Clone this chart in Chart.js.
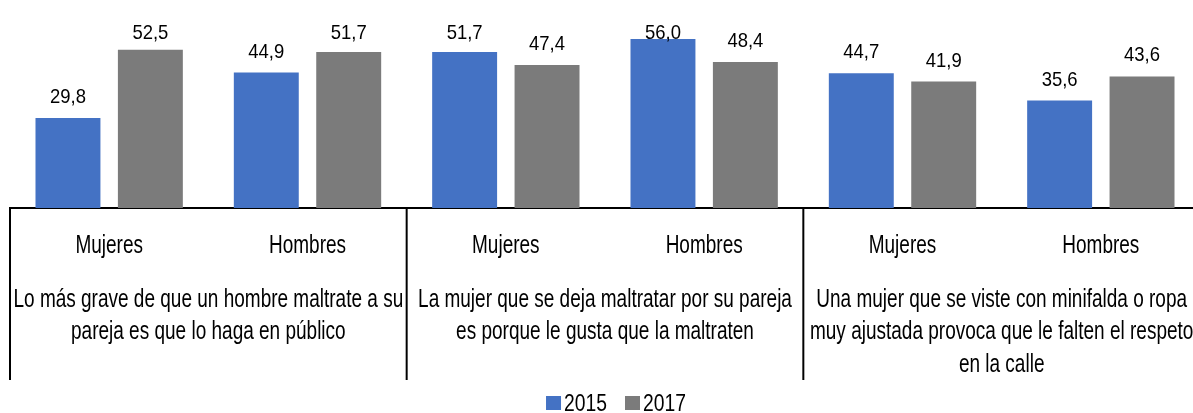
<!DOCTYPE html>
<html>
<head>
<meta charset="utf-8">
<script src="https://cdn.jsdelivr.net/npm/chart.js@4"></script>
<style>
  html, body { margin:0; padding:0; background:#fff; overflow:hidden; }
</style>
</head>
<body>
<canvas id="chart" width="1232" height="413"></canvas>
<script>
// data
const subLabels = ['Mujeres', 'Hombres', 'Mujeres', 'Hombres', 'Mujeres', 'Hombres'];
const groupLabels = [
  ['Lo más grave de que un hombre maltrate a su', 'pareja es que lo haga en público'],
  ['La mujer que se deja maltratar por su pareja', 'es porque le gusta que la maltraten'],
  ['Una mujer que se viste con minifalda o ropa', 'muy ajustada provoca que le falten el respeto', 'en la calle']
];
const seriesNames = ['2015', '2017'];
const seriesColors = ['#4472C4', '#7B7B7B'];
const values2015 = [29.8, 44.9, 51.7, 56.0, 44.7, 35.6];
const values2017 = [52.5, 51.7, 47.4, 48.4, 41.9, 43.6];

const FONT = '"Liberation Sans", Arial, sans-serif';

// no narrow font installed: squeeze the text horizontally instead
function narrowText(ctx, text, x, y, f){
  const w = ctx.measureText(text).width;
  ctx.fillText(text, x, y, w * f);
}

// value labels, category labels, group dividers and legend
const groupsPlugin = {
  id: 'groups',
  afterDraw(chart){
    const {ctx, chartArea, scales:{x}} = chart;
    ctx.save();
    ctx.fillStyle = '#000';
    ctx.textAlign = 'center';
    ctx.textBaseline = 'alphabetic';

    ctx.font = '21px ' + FONT;
    chart.data.datasets.forEach((ds, i)=>{
      chart.getDatasetMeta(i).data.forEach((bar, j)=>{
        const y = Math.max(bar.y - 15, chartArea.top + 12);
        narrowText(ctx, ds.data[j].toFixed(1).replace('.', ','), bar.x, y, 0.88);
      });
    });

    ctx.font = '25px ' + FONT;
    subLabels.forEach((t, i)=>{
      narrowText(ctx, t, x.getPixelForValue(i), chartArea.bottom + 45, 0.76);
    });

    const half = (x.getPixelForValue(1) - x.getPixelForValue(0)) / 2;
    ctx.strokeStyle = '#000';
    ctx.lineWidth = 2;
    for(let g = 0; g <= groupLabels.length; g++){
      const px = x.getPixelForValue(g*2) - half;
      ctx.beginPath();
      ctx.moveTo(px, chartArea.bottom);
      ctx.lineTo(px, chartArea.bottom + 172);
      ctx.stroke();
    }

    groupLabels.forEach((lines, g)=>{
      const cx = (x.getPixelForValue(g*2) + x.getPixelForValue(g*2 + 1)) / 2;
      lines.forEach((t, k)=> narrowText(ctx, t, cx, chartArea.bottom + 98.7 + k*32.5, 0.76));
    });

    // legend
    ctx.font = '23px ' + FONT;
    ctx.textAlign = 'left';
    const f = 0.84, box = 15, gap = 3, itemGap = 18;
    const widths = seriesNames.map(s => ctx.measureText(s).width * f);
    let total = 0;
    widths.forEach((w, i)=>{ total += box + gap + w + (i ? itemGap : 0); });
    let lx = chart.width / 2 - total / 2;
    seriesNames.forEach((s, i)=>{
      ctx.fillStyle = seriesColors[i];
      ctx.fillRect(lx, 396, box, 14);
      ctx.fillStyle = '#000';
      ctx.fillText(s, lx + box + gap, 411, widths[i]);
      lx += box + gap + widths[i] + itemGap;
    });
    ctx.restore();
  }
};

new Chart(document.getElementById('chart'), {
  type: 'bar',
  data: {
    labels: subLabels,
    datasets: [
      { label: seriesNames[0], data: values2015, backgroundColor: seriesColors[0] },
      { label: seriesNames[1], data: values2017, backgroundColor: seriesColors[1] }
    ]
  },
  options: {
    responsive: false,
    animation: false,
    categoryPercentage: 0.831,
    barPercentage: 0.788,
    layout: { padding: { left: 10, right: 32, top: 27, bottom: 0 } },
    plugins: {
      legend: { display: false },
      tooltip: { enabled: false }
    },
    scales: {
      y: { display: false, min: 0, max: 60 },
      x: {
        grid: { display: false, drawTicks: false },
        border: { display: true, color: '#000', width: 2 },
        ticks: { display: false },
        afterFit(scale){ scale.height = 205; }
      }
    }
  },
  plugins: [groupsPlugin]
});
</script>
</body>
</html>
